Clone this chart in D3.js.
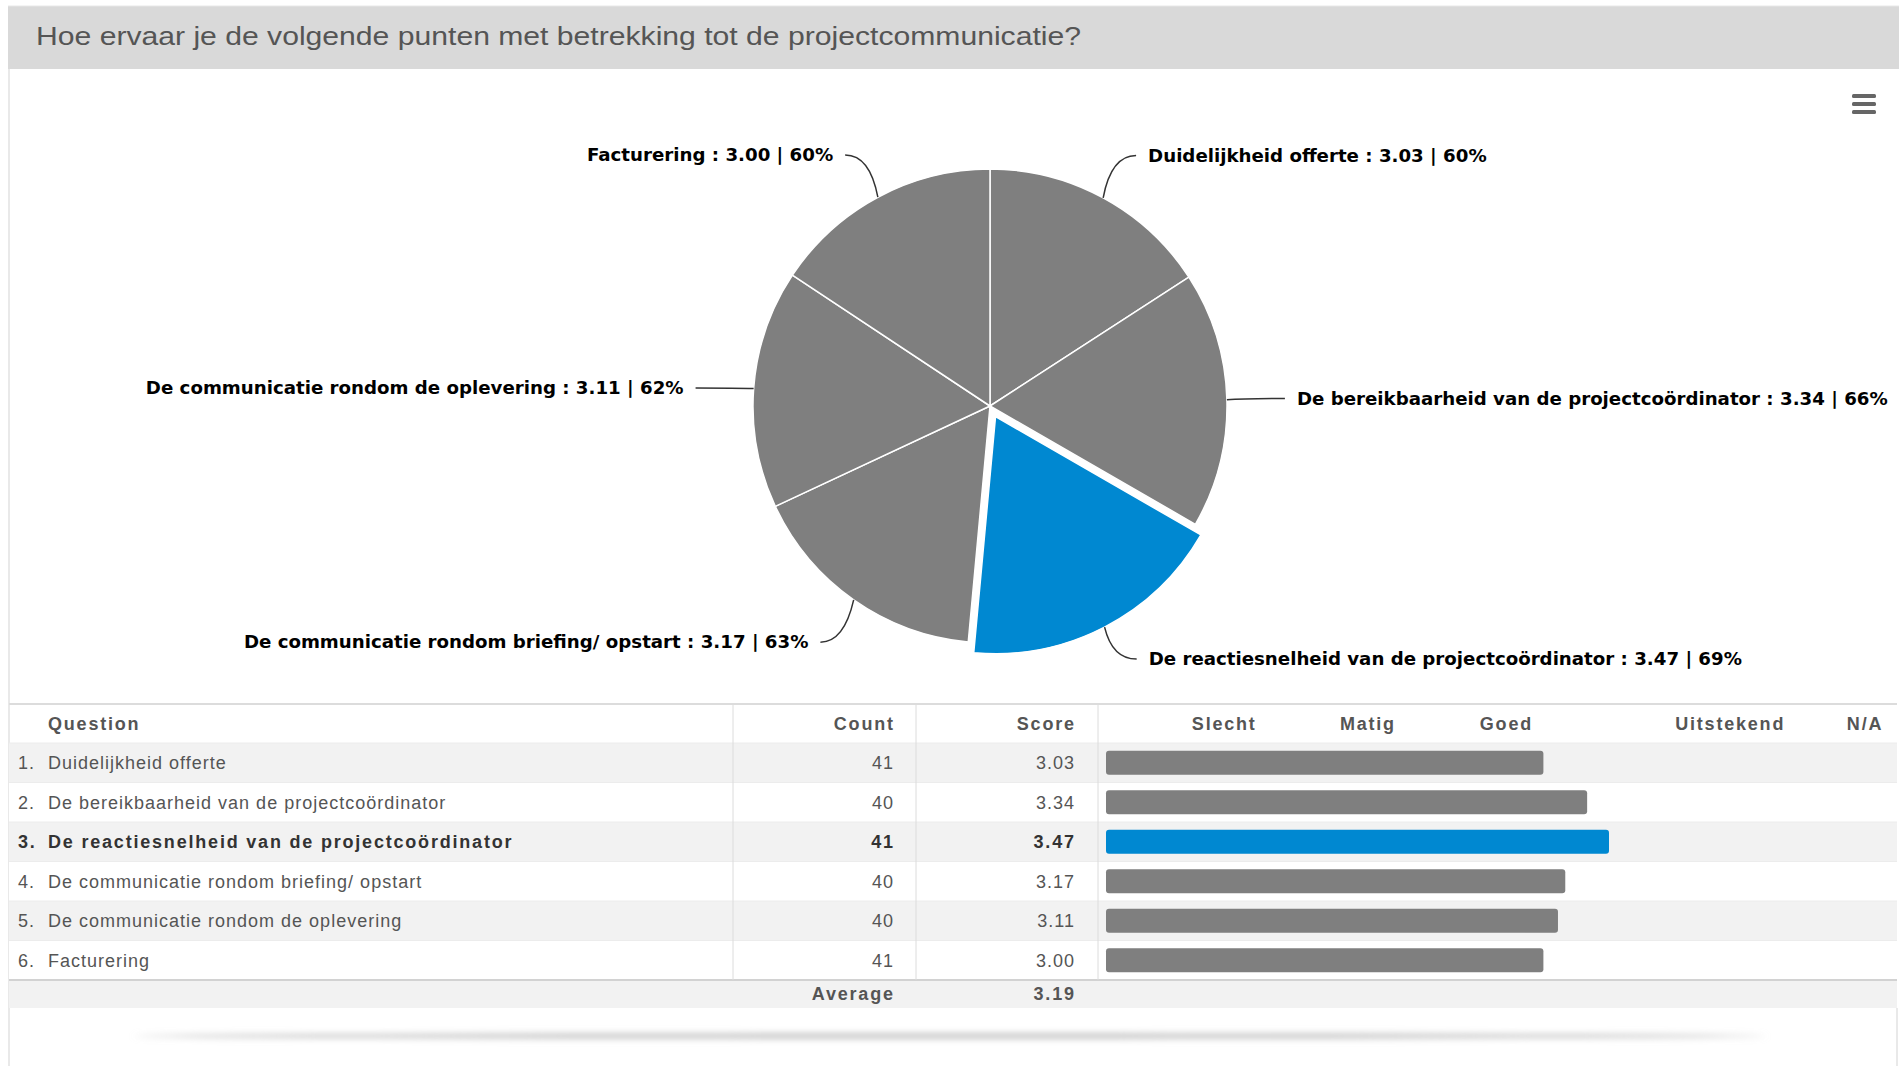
<!DOCTYPE html>
<html>
<head>
<meta charset="utf-8">
<script src="https://cdn.jsdelivr.net/npm/d3@7/dist/d3.min.js"></script>
<style>
  html, body { margin: 0; padding: 0; background: #fff; }
  svg { display: block; }
</style>
</head>
<body>
<svg id="chart" width="1899" height="1066"></svg>
<script>
// ---- data ----
const title = "Hoe ervaar je de volgende punten met betrekking tot de projectcommunicatie?";
const questions = [
  "Duidelijkheid offerte",
  "De bereikbaarheid van de projectcoördinator",
  "De reactiesnelheid van de projectcoördinator",
  "De communicatie rondom briefing/ opstart",
  "De communicatie rondom de oplevering",
  "Facturering"
];
const counts = [41, 40, 41, 40, 40, 41];
const scores = [3.03, 3.34, 3.47, 3.17, 3.11, 3.00];
const percents = [60, 66, 69, 63, 62, 60];
const averageScore = 3.19;
const highlighted = 2;
const tableHeaders = ["Question", "Count", "Score"];
const scaleLabels = ["Slecht", "Matig", "Goed", "Uitstekend", "N/A"];
const scaleLabelPos = [16.1, 35.8, 54.8, 85.5, 104.0]; // in % of bar scale

// ---- setup ----
const W = 1899, H = 1066;
const svg = d3.select("#chart");
const GREY = "#7f7f7f", BLUE = "#0088d1";

const defs = svg.append("defs");
const blur = defs.append("filter").attr("id", "blur").attr("x", "-10%").attr("y", "-300%").attr("width", "120%").attr("height", "700%");
blur.append("feGaussianBlur").attr("stdDeviation", "4 3");

// bottom shadow
svg.append("ellipse").attr("cx", 950).attr("cy", 1036).attr("rx", 815).attr("ry", 3)
  .attr("fill", "#c8c8c8").attr("filter", "url(#blur)");

// frame
svg.append("line").attr("x1", 9).attr("x2", 9).attr("y1", 69).attr("y2", H).attr("stroke", "#e2e2e2").attr("stroke-width", 1.5);
svg.append("line").attr("x1", 1897).attr("x2", 1897).attr("y1", 1008).attr("y2", H).attr("stroke", "#e2e2e2").attr("stroke-width", 1.5);

// title bar
svg.append("rect").attr("x", 8).attr("y", 6).attr("width", W - 8).attr("height", 63).attr("fill", "#d9d9d9");
svg.append("line").attr("x1", 8).attr("x2", W).attr("y1", 6).attr("y2", 6).attr("stroke", "#e8e8e8");
svg.append("text").attr("x", 36).attr("y", 45)
  .attr("font-family", "Liberation Sans, Arial, sans-serif").attr("font-size", 26)
  .attr("textLength", 1045).attr("lengthAdjust", "spacingAndGlyphs")
  .attr("fill", "#555").text(title);

// hamburger icon
const menu = svg.append("g").attr("transform", "translate(1852,94)");
[0, 8, 16].forEach(dy => menu.append("rect").attr("x", 0).attr("y", dy).attr("width", 24).attr("height", 4).attr("rx", 1.5).attr("fill", "#666"));

// ---- pie ----
const cx = 990, cy = 406, R = 237, labelDist = 48, slicedOffset = 12;
const pieData = d3.pie().sort(null).value(d => d)(scores);
const arc = d3.arc().innerRadius(0).outerRadius(R);
const pieG = svg.append("g").attr("transform", `translate(${cx},${cy})`);

pieData.forEach((p, i) => {
  const mid = (p.startAngle + p.endAngle) / 2;
  const off = i === highlighted ? slicedOffset : 0;
  const tx = Math.sin(mid) * off, ty = -Math.cos(mid) * off;
  pieG.append("path").attr("d", arc(p))
    .attr("transform", `translate(${tx},${ty})`)
    .attr("fill", i === highlighted ? BLUE : GREY)
    .attr("stroke", "#fff").attr("stroke-width", 1.5).attr("stroke-linejoin", "round");

  // label
  const side = Math.sin(mid) >= 0 ? 1 : -1;
  const rr = R + labelDist;
  const baseY = -Math.cos(mid) * rr;
  const ly = baseY + (side < 0 && baseY > -R / 2 ? 3 : 0);
  const lxOff = Math.sqrt(Math.max(0, rr * rr - ly * ly));
  const ax = side * lxOff + tx;
  const startX = ax + side * 10;
  const textX = startX + side * 12;
  const ex = Math.sin(mid) * R + tx, ey = -Math.cos(mid) * R + ty;
  const bx = Math.sin(mid) * (R + labelDist * 0.35) + tx;
  pieG.append("path")
    .attr("d", `M${startX},${ly} Q${bx},${ly} ${ex},${ey}`)
    .attr("fill", "none").attr("stroke", "#333").attr("stroke-width", 1.5);
  pieG.append("text").attr("x", textX).attr("y", ly).attr("dy", "0.35em")
    .attr("text-anchor", side > 0 ? "start" : "end")
    .attr("font-family", "DejaVu Sans, Verdana, sans-serif").attr("font-weight", "bold")
    .attr("font-size", 18.2).attr("fill", "#000")
    .text(`${questions[i]} : ${scores[i].toFixed(2)} | ${percents[i]}%`);
});

// ---- table ----
const tableTop = 705, headerH = 38, rowH = 39.5, avgH = 28;
const xLeft = 9, xRight = W - 2;
const colSep = [733, 916, 1098];
const rowY = d3.scaleBand().domain(d3.range(questions.length)).range([tableTop + headerH, tableTop + headerH + rowH * questions.length]);
const tableBottom = tableTop + headerH + rowH * questions.length;
const barX = d3.scaleLinear().domain([0, 100]).range([1106, 1835]);
const font = "Liberation Sans, Arial, sans-serif";
const FS = 18, LS_REG = 1, LS_BOLD = 1.8;
const tG = svg.append("g");

// row backgrounds
questions.forEach((q, i) => {
  tG.append("rect").attr("x", xLeft).attr("y", rowY(i)).attr("width", xRight - xLeft).attr("height", rowY.bandwidth())
    .attr("fill", i % 2 === 0 ? "#f2f2f2" : "#fff");
  tG.append("line").attr("x1", xLeft).attr("x2", xRight).attr("y1", rowY(i)).attr("y2", rowY(i)).attr("stroke", "#ececec");
});
tG.append("rect").attr("x", xLeft).attr("y", tableBottom).attr("width", xRight - xLeft).attr("height", avgH).attr("fill", "#f2f2f2");
tG.append("line").attr("x1", xLeft).attr("x2", xRight).attr("y1", tableTop - 1).attr("y2", tableTop - 1).attr("stroke", "#dcdcdc").attr("stroke-width", 2);
tG.append("line").attr("x1", xLeft).attr("x2", xRight).attr("y1", tableBottom).attr("y2", tableBottom).attr("stroke", "#d2d2d2").attr("stroke-width", 2);
colSep.forEach(x => tG.append("line").attr("x1", x).attr("x2", x).attr("y1", tableTop).attr("y2", tableBottom).attr("stroke", "#dcdcdc"));

// text helper (letter-spacing compensated for end anchoring)
function cell(x, y, t, anchor, bold, color) {
  const ls = bold ? LS_BOLD : LS_REG;
  const shift = anchor === "end" ? ls : anchor === "middle" ? ls / 2 : 0;
  return tG.append("text").attr("x", x + shift).attr("y", y).attr("dy", "0.35em")
    .attr("text-anchor", anchor).attr("font-family", font).attr("font-size", FS)
    .attr("letter-spacing", ls)
    .attr("font-weight", bold ? "bold" : "normal").attr("fill", color).text(t);
}

// header
const hy = tableTop + headerH / 2;
cell(48, hy, tableHeaders[0], "start", true, "#555");
cell(893, hy, tableHeaders[1], "end", true, "#555");
cell(1074, hy, tableHeaders[2], "end", true, "#555");
scaleLabels.forEach((s, i) => cell(barX(scaleLabelPos[i]), hy, s, "middle", true, "#555"));

// rows
questions.forEach((q, i) => {
  const y = rowY(i) + rowY.bandwidth() / 2;
  const bold = i === highlighted;
  const col = bold ? "#333" : "#555";
  cell(18, y, `${i + 1}.`, "start", bold, col);
  cell(48, y, q, "start", bold, col);
  cell(893, y, counts[i], "end", bold, col);
  cell(1074, y, scores[i].toFixed(2), "end", bold, col);
  tG.append("rect").attr("x", barX(0)).attr("y", y - 12).attr("width", barX(percents[i]) - barX(0)).attr("height", 24)
    .attr("rx", 3).attr("fill", bold ? BLUE : GREY);
});

// average
const ay = tableBottom + avgH / 2;
cell(893, ay, "Average", "end", true, "#555");
cell(1074, ay, averageScore.toFixed(2), "end", true, "#555");
</script>
</body>
</html>
